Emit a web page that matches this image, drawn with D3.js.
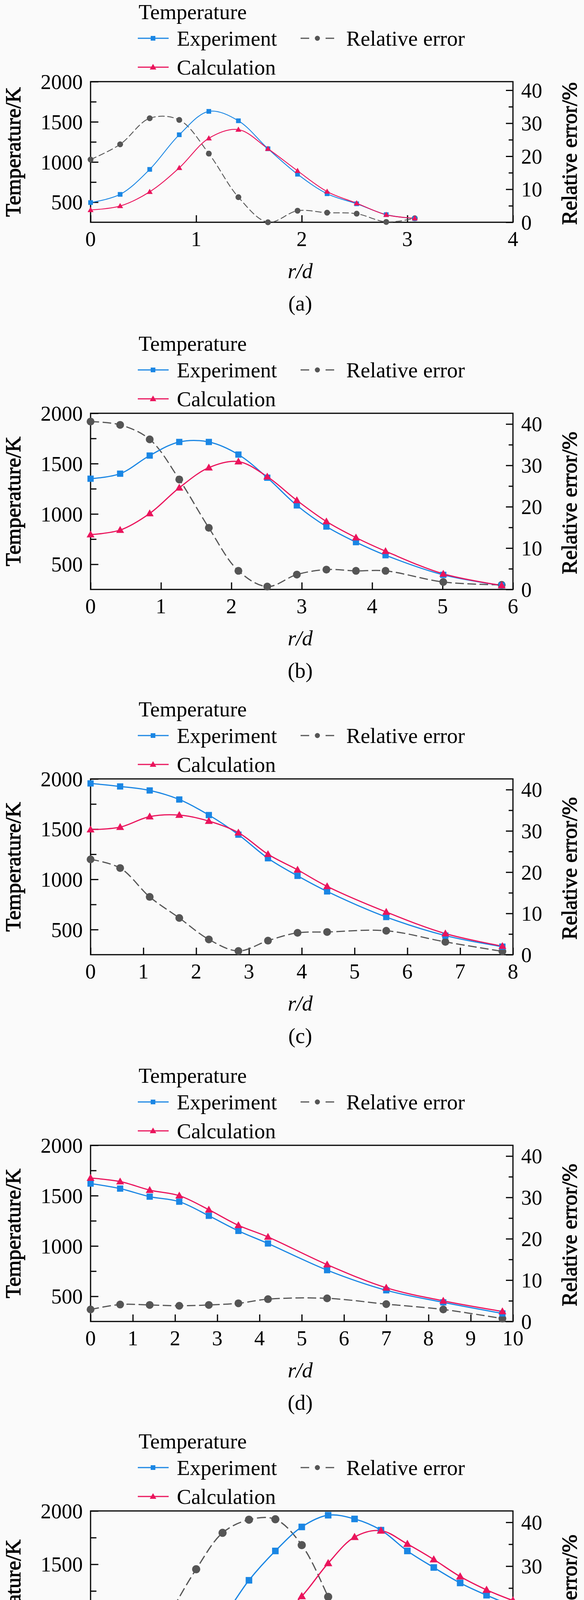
<!DOCTYPE html>
<html>
<head>
<meta charset="utf-8">
<script src="https://cdn.jsdelivr.net/npm/d3@7/dist/d3.min.js"></script>
<style>
  html, body { margin: 0; padding: 0; background: #fafafa; overflow: hidden; }
  svg { display: block; }
  svg text { font-family: "Liberation Serif", "Times New Roman", serif; fill: #000; }
</style>
</head>
<body>
<svg id="fig" width="1496" height="4589"></svg>
<script>
// ---- data ----
const rdA = [0, 0.28, 0.56, 0.84, 1.12, 1.40, 1.68, 1.96, 2.24, 2.52, 2.80, 3.07];
const expA = [495, 597, 908, 1339, 1630, 1513, 1165, 848, 605, 480, 345, 296];
const calcA = [403, 452, 629, 927, 1295, 1403, 1165, 890, 632, 487, 343, 300];
const errA = [19.0, 23.6, 31.5, 31.0, 20.8, 7.6, 0.0, 3.5, 2.9, 2.6, 0.1, 1.2];

const rdB = [0, 0.42, 0.84, 1.26, 1.68, 2.10, 2.51, 2.93, 3.35, 3.77, 4.19, 5.01, 5.84];
const expB = [1350, 1400, 1580, 1715, 1715, 1590, 1360, 1085, 875, 720, 590, 395, 290];
const calcB = [795, 840, 1005, 1260, 1460, 1520, 1370, 1135, 925, 765, 630, 405, 290];
const errB = [40.6, 39.8, 36.3, 26.6, 14.9, 4.5, 0.7, 3.6, 4.8, 4.5, 4.5, 1.8, 1.1];

const rdC = [0, 0.56, 1.12, 1.68, 2.24, 2.80, 3.36, 3.92, 4.48, 5.60, 6.72, 7.80];
const expC = [1955, 1925, 1885, 1795, 1640, 1445, 1210, 1035, 880, 625, 440, 330];
const calcC = [1495, 1520, 1625, 1640, 1580, 1465, 1250, 1095, 930, 675, 460, 335];
const errC = [23.1, 21.0, 14.0, 8.9, 3.7, 0.9, 3.4, 5.3, 5.5, 5.8, 3.1, 0.8];

const rdD = [0, 0.7, 1.4, 2.1, 2.8, 3.5, 4.2, 5.6, 7.0, 8.35, 9.75];
const expD = [1620, 1570, 1490, 1440, 1300, 1150, 1025, 760, 560, 440, 330];
const calcD = [1675, 1640, 1555, 1500, 1360, 1205, 1090, 815, 585, 455, 350];
const errD = [2.9, 4.1, 4.0, 3.8, 4.0, 4.4, 5.4, 5.6, 4.2, 2.9, 0.7];

const xdE = [5, 10, 15, 20, 25, 30, 35, 40, 45, 50, 55, 60, 65, 70, 75, 80];
const expE = [295, 345, 495, 745, 1000, 1350, 1625, 1850, 1960, 1925, 1820, 1625, 1470, 1325, 1210, 1110];
const calcE = [285, 320, 405, 525, 625, 810, 970, 1200, 1510, 1755, 1815, 1690, 1545, 1385, 1260, 1160];
const errE = [1.6, 8.1, 19.1, 29.3, 37.6, 40.6, 40.7, 34.8, 23.0, 9.1, 0.1, 3.0, 4.3, 4.0, 3.9, 4.2];

// ticks
const tempTicks = [500, 1000, 1500, 2000];
const tempMinor = [750, 1250, 1750];
const errTicks = [0, 10, 20, 30, 40];
const errMinor = [5, 15, 25, 35];
const xTicksA = [0, 1, 2, 3, 4];
const xTicksB = [0, 1, 2, 3, 4, 5, 6];
const xTicksC = [0, 1, 2, 3, 4, 5, 6, 7, 8];
const xTicksD = [0, 1, 2, 3, 4, 5, 6, 7, 8, 9, 10];
const xTicksE = [0, 10, 20, 30, 40, 50, 60, 70, 80];
const xMinorE = [5, 15, 25, 35, 45, 55, 65, 75];

const legendNames = ['Temperature', 'Experiment', 'Calculation', 'Relative error'];
const panelLabels = ['(a)', '(b)', '(c)', '(d)', '(e)'];

// ---- styles ----
const BLUE = '#1a86e4', RED = '#ea145c', GREY = '#555555';

const panels = [
  { x: rdA, exp: expA, calc: calcA, err: errA, ticks: xTicksA, minor: [], title: 'r/d',
    top: 209, h: 360, s: 0.75 },
  { x: rdB, exp: expB, calc: calcB, err: errB, ticks: xTicksB, minor: [], title: 'r/d',
    top: 1058, h: 451, s: 1 },
  { x: rdC, exp: expC, calc: calcC, err: errC, ticks: xTicksC, minor: [], title: 'r/d',
    top: 1994, h: 450, s: 1 },
  { x: rdD, exp: expD, calc: calcD, err: errD, ticks: xTicksD, minor: [], title: 'r/d',
    top: 2932, h: 451, s: 1 },
  { x: xdE, exp: expE, calc: calcE, err: errE, ticks: xTicksE, minor: xMinorE, title: 'x/d',
    top: 3868, h: 478, s: 1.05 }
];

const svg = d3.select('#fig');
const left = 232, right = 1314;
const fontSize = 54;

function marker(g, type, cx, cy, size, color) {
  if (type === 'square') {
    g.append('rect').attr('x', cx - size / 2).attr('y', cy - size / 2)
      .attr('width', size).attr('height', size).attr('fill', color);
  } else if (type === 'triangle') {
    const sym = d3.symbol().type(d3.symbolTriangle).size(size * size * 0.62);
    g.append('path').attr('d', sym()).attr('transform', `translate(${cx},${cy + size * 0.08})`)
      .attr('fill', color);
  } else {
    g.append('circle').attr('cx', cx).attr('cy', cy).attr('r', size / 2).attr('fill', color);
  }
}

panels.forEach((p, i) => {
  const top = p.top, bottom = p.top + p.h;
  const g = svg.append('g');
  const xMax = p.ticks[p.ticks.length - 1];

  const x = d3.scaleLinear().domain([0, xMax]).range([left, right]);
  const yT = d3.scaleLinear().domain([250, 2000]).range([bottom, top]);
  const yE = d3.scaleLinear().domain([0, 42.6]).range([bottom, top]);

  // ticks (inward), drawn with d3 axes
  const tickStyle = sel => {
    sel.select('.domain').remove();
    sel.selectAll('.tick line').attr('stroke', '#000').attr('stroke-width', 3);
    sel.selectAll('.tick text').remove();
  };
  g.append('g').attr('transform', `translate(0,${bottom})`)
    .call(d3.axisTop(x).tickValues(p.ticks).tickSize(18)).call(tickStyle);
  if (p.minor.length) {
    g.append('g').attr('transform', `translate(0,${bottom})`)
      .call(d3.axisTop(x).tickValues(p.minor).tickSize(12)).call(tickStyle);
  }
  g.append('g').attr('transform', `translate(${left},0)`)
    .call(d3.axisRight(yT).tickValues(tempTicks).tickSize(20)).call(tickStyle);
  g.append('g').attr('transform', `translate(${left},0)`)
    .call(d3.axisRight(yT).tickValues(tempMinor).tickSize(15)).call(tickStyle);
  g.append('g').attr('transform', `translate(${right},0)`)
    .call(d3.axisLeft(yE).tickValues(errTicks).tickSize(18)).call(tickStyle);
  g.append('g').attr('transform', `translate(${right},0)`)
    .call(d3.axisLeft(yE).tickValues(errMinor).tickSize(11)).call(tickStyle);

  // frame
  g.append('rect').attr('x', left).attr('y', top).attr('width', right - left).attr('height', p.h)
    .attr('fill', 'none').attr('stroke', '#000').attr('stroke-width', 3);

  // tick labels
  g.selectAll('.xl').data(p.ticks).enter().append('text')
    .attr('x', d => x(d)).attr('y', bottom + 42).attr('dy', '0.35em')
    .attr('text-anchor', 'middle').attr('font-size', fontSize).text(d => d);
  g.selectAll('.yl').data(tempTicks).enter().append('text')
    .attr('x', 212).attr('y', d => yT(d)).attr('dy', '0.35em')
    .attr('text-anchor', 'end').attr('font-size', fontSize).text(d => d);
  g.selectAll('.el').data(errTicks).enter().append('text')
    .attr('x', 1335).attr('y', d => yE(d)).attr('dy', '0.35em')
    .attr('text-anchor', 'start').attr('font-size', fontSize).text(d => d);

  // axis titles
  const mid = (top + bottom) / 2;
  g.append('text').attr('transform', `translate(52,${mid}) rotate(-90)`)
    .attr('text-anchor', 'middle').attr('font-size', 55)
    .attr('stroke', '#000').attr('stroke-width', 1.3).text('Temperature/K');
  g.append('text').attr('transform', `translate(1477,${mid + 4}) rotate(-90)`)
    .attr('text-anchor', 'middle').attr('font-size', 55)
    .attr('stroke', '#000').attr('stroke-width', 1.3).text('Relative error/%');
  g.append('text').attr('x', 769).attr('y', bottom + 124).attr('dy', '0.35em')
    .attr('text-anchor', 'middle').attr('font-size', 55).attr('font-style', 'italic').text(p.title);
  g.append('text').attr('x', 769).attr('y', bottom + 207).attr('dy', '0.35em')
    .attr('text-anchor', 'middle').attr('font-size', 55).text(panelLabels[i]);

  // data
  const clipId = 'clip' + i;
  svg.append('clipPath').attr('id', clipId).append('rect')
    .attr('x', left).attr('y', top).attr('width', right - left).attr('height', p.h);
  const curve = d3.curveCatmullRom.alpha(0.5);
  const s = p.s;

  const errPts = p.x.map((v, k) => [x(v), yE(p.err[k])]);
  const expPts = p.x.map((v, k) => [x(v), yT(p.exp[k])]);
  const calcPts = p.x.map((v, k) => [x(v), yT(p.calc[k])]);
  const line = d3.line().curve(curve);

  g.append('path').attr('d', line(errPts)).attr('clip-path', `url(#${clipId})`)
    .attr('fill', 'none').attr('stroke', GREY).attr('stroke-width', 3 * s)
    .attr('stroke-dasharray', `${22 * s},${9 * s}`);
  g.append('path').attr('d', line(expPts)).attr('clip-path', `url(#${clipId})`)
    .attr('fill', 'none').attr('stroke', BLUE).attr('stroke-width', 3 * s);
  g.append('path').attr('d', line(calcPts)).attr('clip-path', `url(#${clipId})`)
    .attr('fill', 'none').attr('stroke', RED).attr('stroke-width', 3 * s);

  errPts.forEach(d => marker(g, 'circle', d[0], d[1], 20 * s, GREY));
  expPts.forEach(d => marker(g, 'square', d[0], d[1], 16 * s, BLUE));
  calcPts.forEach(d => marker(g, 'triangle', d[0], d[1], 17 * s, RED));

  // legend
  const lg = svg.append('g');
  lg.append('text').attr('x', 355).attr('y', top - 179).attr('dy', '0.35em')
    .attr('font-size', 55).text(legendNames[0]);
  const rowE = top - 111, rowC = top - 37;
  lg.append('line').attr('x1', 353).attr('x2', 432).attr('y1', rowE).attr('y2', rowE)
    .attr('stroke', BLUE).attr('stroke-width', 3);
  marker(lg, 'square', 392, rowE, 12, BLUE);
  lg.append('text').attr('x', 453).attr('y', rowE).attr('dy', '0.35em')
    .attr('font-size', 55).text(legendNames[1]);
  lg.append('line').attr('x1', 353).attr('x2', 432).attr('y1', rowC).attr('y2', rowC)
    .attr('stroke', RED).attr('stroke-width', 3);
  marker(lg, 'triangle', 392, rowC, 14, RED);
  lg.append('text').attr('x', 453).attr('y', rowC).attr('dy', '0.35em')
    .attr('font-size', 55).text(legendNames[2]);
  [[770, 792], [834, 856]].forEach(seg => {
    lg.append('line').attr('x1', seg[0]).attr('x2', seg[1]).attr('y1', rowE).attr('y2', rowE)
      .attr('stroke', GREY).attr('stroke-width', 3);
  });
  marker(lg, 'circle', 813, rowE, 13, GREY);
  lg.append('text').attr('x', 887).attr('y', rowE).attr('dy', '0.35em')
    .attr('font-size', 55).text(legendNames[3]);
});
</script>
</body>
</html>
